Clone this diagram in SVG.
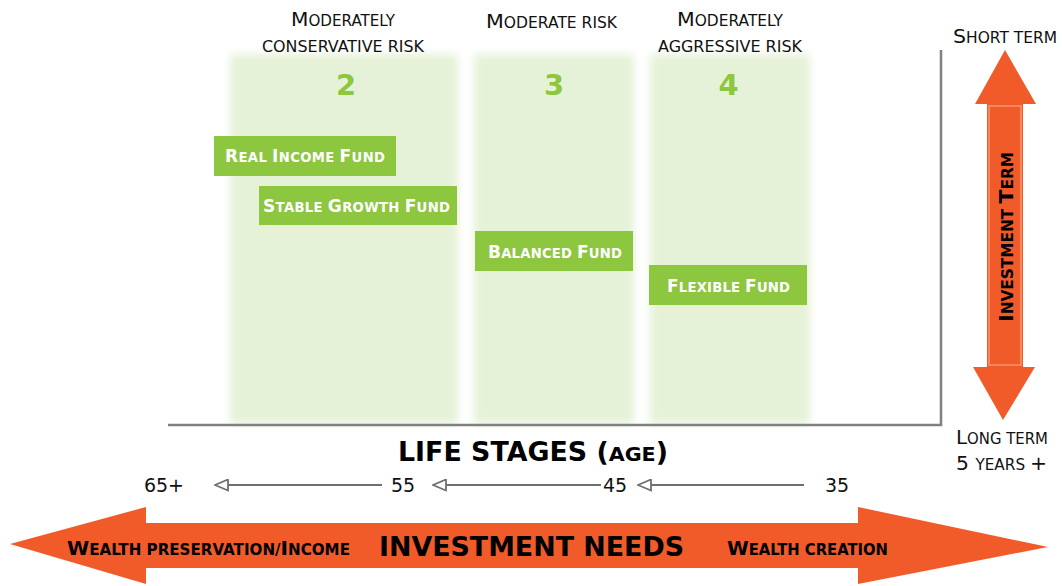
<svg xmlns="http://www.w3.org/2000/svg" width="1062" height="586" viewBox="0 0 1062 586">
  <style>
    text { font-family: "DejaVu Sans", Verdana, sans-serif; }
    .head { fill: #111; text-anchor: middle; }
    .b20 { font-size: 20px; }
    .s15 { font-size: 15px; }
    .num { font-size: 29px; font-weight: bold; fill: #8dc63f; text-anchor: middle; }
    .fund rect { fill: #8dc63f; }
    .fund text { font-size: 13.2px; font-weight: bold; fill: #fff; text-anchor: middle; }
    .fund .cap { font-size: 17px; }
    .axis { stroke: #808080; stroke-width: 2.5; fill: none; }
    .age { font-size: 19px; fill: #111; text-anchor: middle; }
    .ageline { stroke: #6f6f6f; stroke-width: 2; fill: none; marker-end: url(#open); }
    .orange { fill: #f15a29; }
    .dark { fill: #000; font-weight: bold; }
  </style>
  <defs>
    <filter id="soft" x="-10%" y="-10%" width="120%" height="120%">
      <feGaussianBlur stdDeviation="4"/>
    </filter>
    <marker id="open" viewBox="0 0 15 13" refX="14" refY="6.5" markerWidth="15" markerHeight="13" markerUnits="userSpaceOnUse" orient="auto">
      <path d="M1,1 L14,6.5 L1,12 Z" fill="#fff" stroke="#6f6f6f" stroke-width="1.8"/>
    </marker>
  </defs>

  <!-- risk bands -->
  <g id="bands" filter="url(#soft)" fill="#e6f2d8">
    <rect x="230" y="54" width="228" height="370"/>
    <rect x="474" y="54" width="160" height="370"/>
    <rect x="650" y="54" width="160" height="370"/>
  </g>

  <!-- band headings -->
  <g id="band-2">
    <text class="head" x="343" y="26" textLength="104" lengthAdjust="spacingAndGlyphs"><tspan class="b20">M</tspan><tspan class="s15">ODERATELY</tspan></text>
    <text class="head s15" x="343" y="52" textLength="162" lengthAdjust="spacingAndGlyphs">CONSERVATIVE RISK</text>
    <text class="num" x="346" y="95">2</text>
  </g>
  <g id="band-3">
    <text class="head" x="551.5" y="28" textLength="131" lengthAdjust="spacingAndGlyphs"><tspan class="b20">M</tspan><tspan class="s15">ODERATE RISK</tspan></text>
    <text class="num" x="554" y="95">3</text>
  </g>
  <g id="band-4">
    <text class="head" x="730" y="26" textLength="106" lengthAdjust="spacingAndGlyphs"><tspan class="b20">M</tspan><tspan class="s15">ODERATELY</tspan></text>
    <text class="head s15" x="730" y="52" textLength="144" lengthAdjust="spacingAndGlyphs">AGGRESSIVE RISK</text>
    <text class="num" x="728.5" y="95">4</text>
  </g>

  <!-- funds -->
  <g id="real-income-fund" class="fund">
    <rect x="214" y="136" width="182" height="40"/>
    <text x="305" y="162" textLength="160" lengthAdjust="spacing"><tspan class="cap">R</tspan>EAL <tspan class="cap">I</tspan>NCOME <tspan class="cap">F</tspan>UND</text>
  </g>
  <g id="stable-growth-fund" class="fund">
    <rect x="259" y="186" width="198" height="39"/>
    <text x="356.5" y="212" textLength="187" lengthAdjust="spacing"><tspan class="cap">S</tspan>TABLE <tspan class="cap">G</tspan>ROWTH <tspan class="cap">F</tspan>UND</text>
  </g>
  <g id="balanced-fund" class="fund">
    <rect x="475" y="231" width="158" height="40"/>
    <text x="555" y="258" textLength="134" lengthAdjust="spacing"><tspan class="cap">B</tspan>ALANCED <tspan class="cap">F</tspan>UND</text>
  </g>
  <g id="flexible-fund" class="fund">
    <rect x="649" y="265" width="158" height="40"/>
    <text x="728.5" y="292" textLength="123" lengthAdjust="spacing"><tspan class="cap">F</tspan>LEXIBLE <tspan class="cap">F</tspan>UND</text>
  </g>

  <!-- axes -->
  <g id="axes">
    <path class="axis" d="M168,425 H941 V50"/>
  </g>

  <!-- investment term arrow -->
  <g id="investment-term">
    <path class="orange" d="M1005,50 L1036,104 L1023,104 L1023,367 L1035,367 L1003,420 L973,367 L987,367 L987,104 L975,104 Z"/>
    <rect x="989" y="106" width="32" height="259" fill="none" stroke="#f7875a" stroke-width="2"/>
    <text class="dark" text-anchor="middle" transform="translate(1013,237) rotate(-90)" textLength="170" lengthAdjust="spacingAndGlyphs"><tspan font-size="20">I</tspan><tspan font-size="15">NVESTMENT </tspan><tspan font-size="20">T</tspan><tspan font-size="15">ERM</tspan></text>
    <text class="head" x="1005" y="43" textLength="104" lengthAdjust="spacingAndGlyphs"><tspan class="b20">S</tspan><tspan class="s15">HORT TERM</tspan></text>
    <text class="head" x="1002" y="444" textLength="92" lengthAdjust="spacingAndGlyphs"><tspan class="b20">L</tspan><tspan class="s15">ONG TERM</tspan></text>
    <text class="head" x="1001.5" y="470" textLength="91" lengthAdjust="spacingAndGlyphs"><tspan class="b20">5 </tspan><tspan class="s15">YEARS </tspan><tspan class="b20">+</tspan></text>
  </g>

  <!-- life stages -->
  <g id="life-stages">
    <text class="dark" text-anchor="middle" x="533" y="461" textLength="270" lengthAdjust="spacingAndGlyphs"><tspan font-size="26">LIFE STAGES (</tspan><tspan font-size="20">AGE</tspan><tspan font-size="26">)</tspan></text>
    <text class="age" x="164" y="492">65+</text>
    <text class="age" x="403" y="492">55</text>
    <text class="age" x="615" y="492">45</text>
    <text class="age" x="837" y="492">35</text>
  </g>
  <g id="connectors">
    <path class="ageline" d="M382,485 H215"/>
    <path class="ageline" d="M601,485 H433"/>
    <path class="ageline" d="M804,485 H638"/>
  </g>

  <!-- investment needs arrow -->
  <g id="investment-needs">
    <path class="orange" d="M10,544 L146,507 L146,523 L858,523 L858,507 L1048,547 L858,584 L858,568 L146,568 L146,584 Z"/>
    <text class="dark" x="67" y="555" textLength="283" lengthAdjust="spacingAndGlyphs"><tspan font-size="20">W</tspan><tspan font-size="15">EALTH PRESERVATION/</tspan><tspan font-size="20">I</tspan><tspan font-size="15">NCOME</tspan></text>
    <text class="dark" font-size="26" text-anchor="middle" x="531.5" y="556" textLength="305" lengthAdjust="spacingAndGlyphs">INVESTMENT NEEDS</text>
    <text class="dark" x="727" y="555" textLength="161" lengthAdjust="spacingAndGlyphs"><tspan font-size="20">W</tspan><tspan font-size="15">EALTH CREATION</tspan></text>
  </g>
</svg>
